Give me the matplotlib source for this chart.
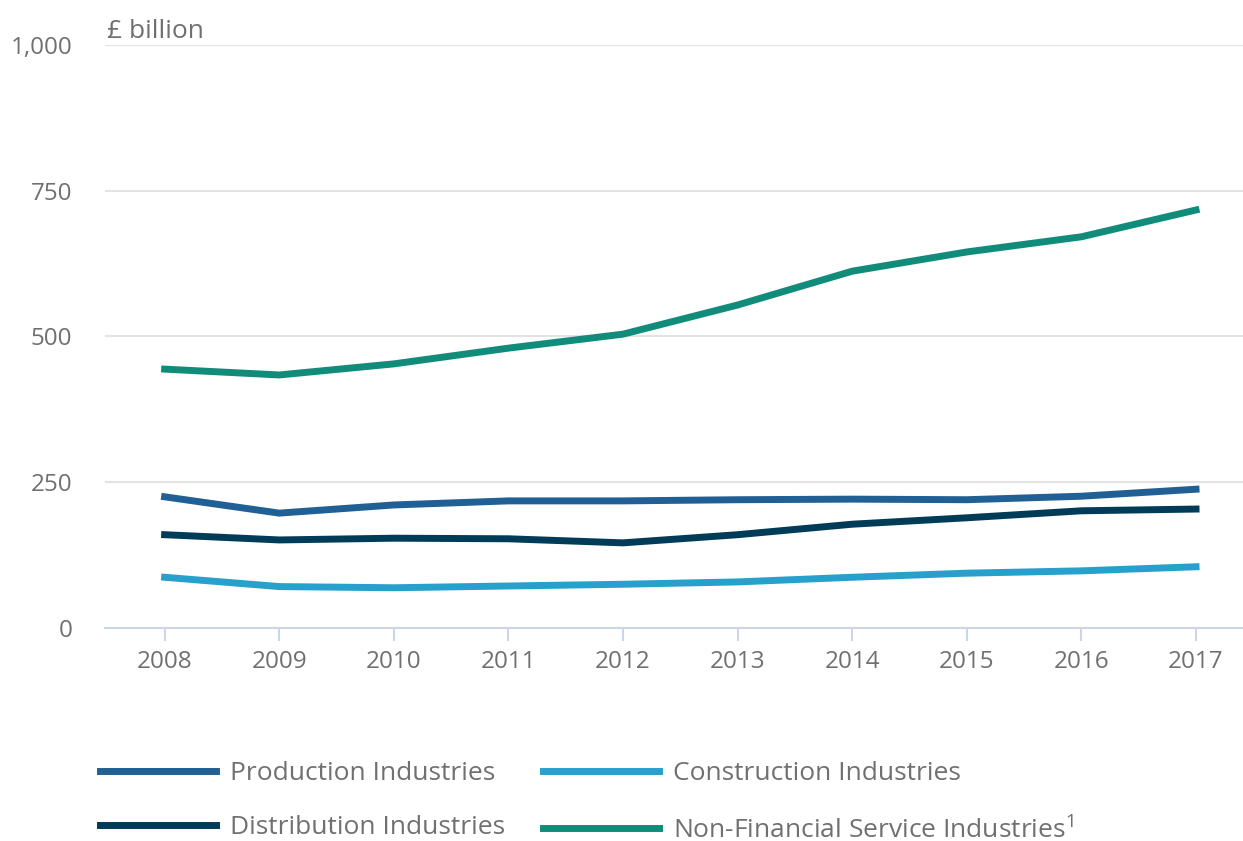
import matplotlib.pyplot as plt
from matplotlib.ticker import FuncFormatter

plt.rcParams['font.family'] = ['Open Sans', 'DejaVu Sans']
plt.rcParams['mathtext.fontset'] = 'custom'
plt.rcParams['mathtext.rm'] = 'Open Sans'

years = [2008, 2009, 2010, 2011, 2012, 2013, 2014, 2015, 2016, 2017]

# £ billion
production = [225, 197, 211, 218, 218, 220, 221, 220, 226, 238]
construction = [87, 71, 69, 72, 75, 79, 87, 94, 98, 105]
distribution = [160, 151, 154, 153, 146, 160, 178, 189, 201, 204]
non_financial = [444, 434, 453, 480, 504, 554, 612, 645, 671, 717]

text_grey = '#707070'

fig = plt.figure(figsize=(12.43, 8.41), dpi=100)
ax = fig.add_axes([0.0845, 0.2533, 0.9155, 0.6932])

l_prod, = ax.plot(years, production, color='#206095', lw=5, label='Production Industries')
l_cons, = ax.plot(years, construction, color='#27a0cc', lw=5, label='Construction Industries')
l_dist, = ax.plot(years, distribution, color='#003c57', lw=5, label='Distribution Industries')
l_nfs, = ax.plot(years, non_financial, color='#118c7b', lw=5,
                 label='Non-Financial Service Industries$^{1}$')

ax.set_xlim(2007.48, 2017.41)
ax.set_ylim(0, 1000)
ax.set_yticks([0, 250, 500, 750, 1000])
ax.yaxis.set_major_formatter(FuncFormatter(lambda v, p: f'{int(v):,}'))
ax.set_xticks(years)

ax.grid(axis='y', color='#e3e3e3', lw=1.5)
ax.set_axisbelow(True)
for s in ['top', 'right', 'left']:
    ax.spines[s].set_visible(False)
ax.spines['bottom'].set_color('#ccd6eb')
ax.spines['bottom'].set_linewidth(1.5)
ax.tick_params(axis='y', length=0, pad=23.5, labelsize=17.5, labelcolor=text_grey)
ax.tick_params(axis='x', length=9, width=1.5, color='#ccd6eb', pad=7,
               labelsize=17.5, labelcolor=text_grey)

ax.annotate('£ billion', xy=(0.002, 1.0), xycoords='axes fraction',
            xytext=(0, 5), textcoords='offset points', ha='left', va='baseline',
            fontsize=19, color=text_grey)

fig.legend([l_prod, l_dist, l_cons, l_nfs],
           [l.get_label() for l in [l_prod, l_dist, l_cons, l_nfs]],
           ncol=2, loc='lower left', bbox_to_anchor=(0.0616, -0.031),
           frameon=False, fontsize=19, labelcolor=text_grey,
           handlelength=4.4, handletextpad=0.53, columnspacing=1.43,
           labelspacing=1.1)

fig.savefig('out.png', dpi=100)
